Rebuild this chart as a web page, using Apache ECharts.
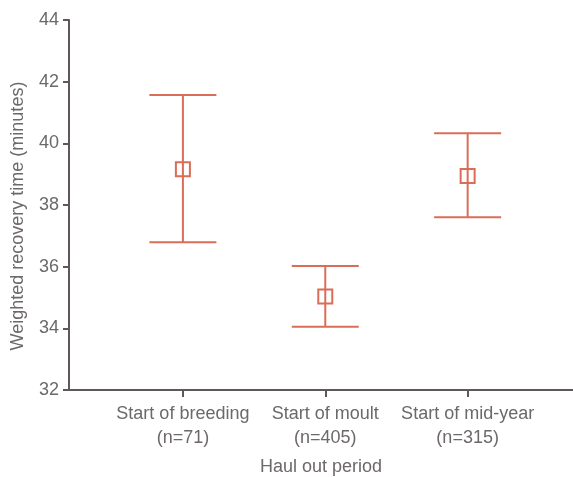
<!DOCTYPE html>
<html><head><meta charset="utf-8">
<script src="https://cdn.jsdelivr.net/npm/echarts@6/dist/echarts.min.js"></script>
<style>html,body{margin:0;padding:0;background:#fff;overflow:hidden}#c{width:573px;height:477px}</style>
</head><body><div id="c"></div>
<script>
const categories = ["Start of breeding\n(n=71)", "Start of moult\n(n=405)", "Start of mid-year\n(n=315)"];
const means = [39.16, 35.03, 38.94];
const lows = [36.79, 34.05, 37.6];
const highs = [41.57, 36.02, 40.33];
const yTicks = [32, 34, 36, 38, 40, 42, 44];
const positions = [1, 2, 3];

const color = '#da6d58';
const axisColor = '#5f5859';
const textColor = '#6d6869';

const data = positions.map((p, i) => [p, lows[i], highs[i], means[i]]);

const chart = echarts.init(document.getElementById('c'));
chart.setOption({
  animation: false,
  grid: { left: 69, right: 0, top: 20, bottom: 87, outerBoundsMode: 'none', containLabel: false },
  xAxis: {
    type: 'value', min: 0.2, max: 3.74,
    name: 'Haul out period', nameLocation: 'middle', nameGap: 68,
    nameTextStyle: { color: textColor, fontSize: 18, fontFamily: 'Liberation Sans' },
    axisLine: { show: true, onZero: false, lineStyle: { color: axisColor, width: 2 } },
    axisTick: { show: true, customValues: positions, length: 7, lineStyle: { color: axisColor, width: 2 } },
    axisLabel: { customValues: positions, margin: 12, lineHeight: 24, color: textColor, fontSize: 18, fontFamily: 'Liberation Sans',
      formatter: v => categories[positions.indexOf(Math.round(v))] || '' },
    splitLine: { show: false }
  },
  yAxis: {
    type: 'value', min: 32, max: 44, interval: 2,
    name: 'Weighted recovery time (minutes)', nameLocation: 'middle', nameGap: 42,
    nameTextStyle: { color: textColor, fontSize: 18, fontFamily: 'Liberation Sans', padding: [0, 22, 0, 0] },
    axisLine: { show: true, lineStyle: { color: axisColor, width: 2 } },
    axisTick: { show: true, length: 6, lineStyle: { color: axisColor, width: 2 } },
    axisLabel: { margin: 10, color: textColor, fontSize: 18, fontFamily: 'Liberation Sans',
      formatter: v => yTicks.includes(v) ? String(v) : '' },
    splitLine: { show: false }
  },
  series: [{
    type: 'custom',
    data: data,
    renderItem: function (params, api) {
      const x = api.value(0);
      const lo = api.coord([x, api.value(1)]);
      const hi = api.coord([x, api.value(2)]);
      const mid = api.coord([x, api.value(3)]);
      const half = 33.5, s = 14;
      const st = { stroke: color, lineWidth: 2, fill: null };
      return {
        type: 'group',
        children: [
          { type: 'line', shape: { x1: hi[0], y1: hi[1], x2: lo[0], y2: lo[1] }, style: st },
          { type: 'line', shape: { x1: hi[0] - half, y1: hi[1], x2: hi[0] + half, y2: hi[1] }, style: st },
          { type: 'line', shape: { x1: lo[0] - half, y1: lo[1], x2: lo[0] + half, y2: lo[1] }, style: st },
          { type: 'rect', shape: { x: mid[0] - s / 2, y: mid[1] - s / 2, width: s, height: s }, style: { stroke: color, lineWidth: 2, fill: '#fff' } },
          { type: 'line', shape: { x1: mid[0], y1: mid[1] - s / 2, x2: mid[0], y2: mid[1] + s / 2 }, style: st }
        ]
      };
    }
  }]
});
</script></body></html>
